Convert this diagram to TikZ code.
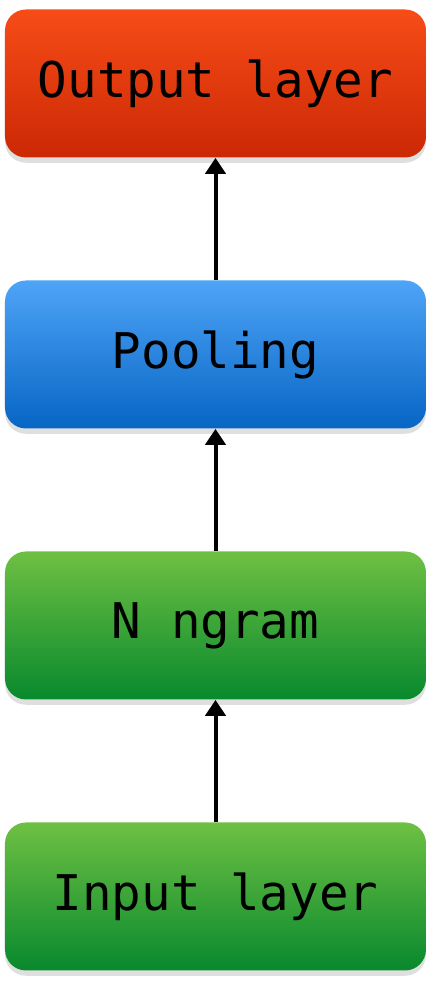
\documentclass[tikz,border=0pt]{standalone}
\usepackage{fontspec}
\setmonofont{DejaVu Sans Mono}
\usetikzlibrary{arrows.meta,shadows}
\definecolor{redtop}{HTML}{F74C17}
\definecolor{redbot}{HTML}{CB2805}
\definecolor{bluetop}{HTML}{4EA4F6}
\definecolor{bluebot}{HTML}{0765C5}
\definecolor{greentop}{HTML}{6EC043}
\definecolor{greenbot}{HTML}{08892D}

\begin{document}
\begin{tikzpicture}
  \tikzstyle{layer} = [rectangle, rounded corners=0.42cm, minimum width=8.42cm,
                       minimum height=2.96cm, inner sep=0pt,
                       font=\ttfamily\fontsize{28}{32}\selectfont,
                       drop shadow={shadow xshift=0pt, shadow yshift=-3pt, opacity=.25}]
  \tikzstyle{redlayer} = [layer, top color=redtop, bottom color=redbot]
  \tikzstyle{bluelayer} = [layer, top color=bluetop, bottom color=bluebot]
  \tikzstyle{greenlayer} = [layer, top color=greentop, bottom color=greenbot]
  \tikzstyle{up} = [-{Triangle[width=0.4cm,length=0.32cm]}, line width=0.08cm]
\useasboundingbox (0,0) rectangle (8.64,19.8);
\node[redlayer](out) at (4.31,18.13){Output layer};
\node[bluelayer, below of=out, node distance=5.42cm](pool){Pooling};
\node[greenlayer, below of=pool, node distance=5.42cm](ngram){N ngram};
\node[greenlayer, below of=ngram, node distance=5.42cm](inp){Input layer};
\draw[up] (inp) -- (ngram);
\draw[up] (ngram) -- (pool);
\draw[up] (pool) -- (out);
\end{tikzpicture}
\end{document}
